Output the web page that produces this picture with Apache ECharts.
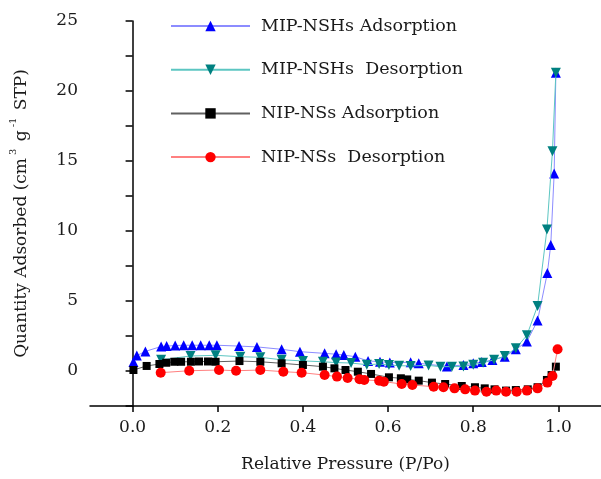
<!DOCTYPE html>
<html>
<head>
    <meta charset="utf-8">
    <title>Adsorption isotherms</title>
    <script src="https://cdn.jsdelivr.net/npm/echarts@6/dist/echarts.min.js"></script>
    <style>
        body, html { margin: 0; padding: 0; background: #fff; }
        #main { width: 601px; height: 479px; }
    </style>
</head>
<body>
    <div id="main"></div>
    <script>
        // legend names
        const seriesNames = ['MIP-NSHs Adsorption', 'MIP-NSHs  Desorption', 'NIP-NSs Adsorption', 'NIP-NSs  Desorption'];

        // MIP-NSHs adsorption
        const mipAdsP = [0.002, 0.01, 0.03, 0.067, 0.08, 0.1, 0.12, 0.14, 0.16, 0.18, 0.198, 0.25, 0.292, 0.35, 0.393, 0.451, 0.478, 0.496, 0.523, 0.553, 0.581, 0.604, 0.653, 0.672, 0.738, 0.777, 0.8, 0.82, 0.845, 0.874, 0.9, 0.926, 0.951, 0.974, 0.982, 0.99, 0.994];
        const mipAdsQ = [0.65, 1.1, 1.4, 1.75, 1.78, 1.82, 1.84, 1.84, 1.84, 1.84, 1.84, 1.78, 1.72, 1.55, 1.38, 1.26, 1.2, 1.14, 1.02, 0.72, 0.66, 0.6, 0.62, 0.55, 0.33, 0.43, 0.56, 0.64, 0.78, 1.02, 1.55, 2.1, 3.6, 7.0, 9.0, 14.1, 21.3];

        // MIP-NSHs desorption
        const mipDesP = [0.067, 0.136, 0.195, 0.253, 0.3, 0.35, 0.4, 0.447, 0.478, 0.513, 0.55, 0.579, 0.602, 0.626, 0.653, 0.695, 0.723, 0.75, 0.777, 0.8, 0.823, 0.849, 0.874, 0.9, 0.926, 0.951, 0.973, 0.986, 0.994];
        const mipDesQ = [0.8, 1.07, 1.12, 1.02, 0.98, 0.8, 0.72, 0.66, 0.6, 0.57, 0.45, 0.5, 0.43, 0.38, 0.36, 0.4, 0.31, 0.31, 0.33, 0.45, 0.59, 0.8, 1.07, 1.62, 2.55, 4.65, 10.1, 15.7, 21.3];

        // NIP-NSs adsorption
        const nipAdsP = [0.002, 0.033, 0.063, 0.079, 0.098, 0.114, 0.137, 0.156, 0.177, 0.195, 0.251, 0.3, 0.35, 0.4, 0.447, 0.474, 0.5, 0.529, 0.56, 0.602, 0.63, 0.645, 0.672, 0.703, 0.734, 0.773, 0.804, 0.827, 0.85, 0.877, 0.9, 0.928, 0.951, 0.973, 0.984, 0.994];
        const nipAdsQ = [0.07, 0.36, 0.5, 0.59, 0.66, 0.66, 0.66, 0.68, 0.68, 0.66, 0.71, 0.66, 0.55, 0.43, 0.31, 0.19, 0.07, -0.05, -0.21, -0.45, -0.52, -0.6, -0.69, -0.83, -0.93, -1.07, -1.16, -1.24, -1.31, -1.4, -1.36, -1.31, -1.16, -0.64, -0.29, 0.31];

        // NIP-NSs desorption
        const nipDesP = [0.066, 0.133, 0.203, 0.243, 0.3, 0.354, 0.397, 0.451, 0.48, 0.505, 0.533, 0.544, 0.579, 0.59, 0.632, 0.657, 0.707, 0.73, 0.756, 0.781, 0.804, 0.831, 0.854, 0.877, 0.902, 0.926, 0.951, 0.974, 0.986, 0.998];
        const nipDesQ = [-0.12, 0.02, 0.07, 0.02, 0.07, -0.05, -0.12, -0.29, -0.4, -0.5, -0.59, -0.64, -0.69, -0.76, -0.93, -1.0, -1.12, -1.16, -1.24, -1.31, -1.4, -1.48, -1.4, -1.48, -1.48, -1.4, -1.24, -0.83, -0.36, 1.55];

        const xTicks = [0, 0.2, 0.4, 0.6, 0.8, 1.0];
        const yTicks = [0, 5, 10, 15, 20, 25];

        const serifFont = '"DejaVu Serif", serif';
        const ink = '#1a1a1a';

        function pairs(px, qy) {
            return px.map((p, i) => [p, qy[i]]);
        }

        const styles = [
            { symbol: 'triangle', size: 10, mark: '#0000ff', line: '#8c8cff' },
            { symbol: 'path://M0,0 L10,0 L5,10 Z', size: 10, mark: '#008080', line: '#5cc6c2' },
            { symbol: 'rect', size: 8, mark: '#000000', line: '#606060' },
            { symbol: 'circle', size: 10, mark: '#ff0000', line: '#ff8080' }
        ];
        const datasets = [pairs(mipAdsP, mipAdsQ), pairs(mipDesP, mipDesQ), pairs(nipAdsP, nipAdsQ), pairs(nipDesP, nipDesQ)];

        const chart = echarts.init(document.getElementById('main'));

        chart.setOption({
            backgroundColor: '#fff',
            animation: false,
            grid: { left: 88, top: 21, width: 516, height: 385 },
            legend: {
                orient: 'vertical',
                left: 165,
                top: 11,
                itemWidth: 79,
                itemHeight: 13,
                itemGap: 23.7,
                data: seriesNames,
                textStyle: {
                    fontFamily: serifFont,
                    fontSize: 17.5,
                    color: ink,
                    lineHeight: 20,
                    padding: [0, 0, 0, 6]
                }
            },
            xAxis: {
                type: 'value',
                min: -0.1,
                max: 1.1,
                interval: 0.2,
                name: 'Relative Pressure (P/Po)',
                nameLocation: 'middle',
                nameGap: 50,
                nameTextStyle: { fontFamily: serifFont, fontSize: 17, color: ink },
                axisLine: { onZero: false, lineStyle: { color: '#000', width: 1.5 } },
                axisTick: { show: true, length: 6, lineStyle: { color: '#000', width: 1.5 },
                    customValues: xTicks },
                minorTick: { show: true, splitNumber: 2, length: 4, lineStyle: { color: '#000', width: 1.5 } },
                axisLabel: {
                    customValues: xTicks,
                    margin: 13,
                    fontFamily: serifFont,
                    fontSize: 17,
                    color: ink,
                    formatter: v => v.toFixed(1)
                },
                splitLine: { show: false }
            },
            yAxis: {
                type: 'value',
                min: -2.5,
                max: 25,
                interval: 2.5,
                name: '{n|Quantity Adsorbed (cm}{s|3}{n| g}{s|-1}{n| STP)}',
                nameLocation: 'middle',
                nameGap: 60,
                nameTextStyle: {
                    rich: {
                        n: { fontFamily: serifFont, fontSize: 17, color: ink, lineHeight: 22, verticalAlign: 'bottom' },
                        s: { fontFamily: serifFont, fontSize: 10, color: ink, lineHeight: 22, verticalAlign: 'top', padding: [0, 2, 0, 3] }
                    }
                },
                axisLine: { show: true, lineStyle: { color: '#000', width: 1.5 } },
                axisTick: { show: true, length: 7, lineStyle: { color: '#000', width: 1.5 } },
                axisLabel: {
                    margin: 12,
                    fontFamily: serifFont,
                    fontSize: 17,
                    color: ink,
                    formatter: v => (yTicks.indexOf(v) >= 0 ? String(v) : '')
                },
                splitLine: { show: false }
            },
            series: seriesNames.map((name, i) => ({
                name: name,
                type: 'line',
                data: datasets[i],
                symbol: styles[i].symbol,
                symbolSize: styles[i].size,
                showAllSymbol: true,
                itemStyle: { color: styles[i].mark },
                lineStyle: { color: styles[i].line, width: 1 },
                z: 2 + i
            }))
        });
    </script>
</body>
</html>
